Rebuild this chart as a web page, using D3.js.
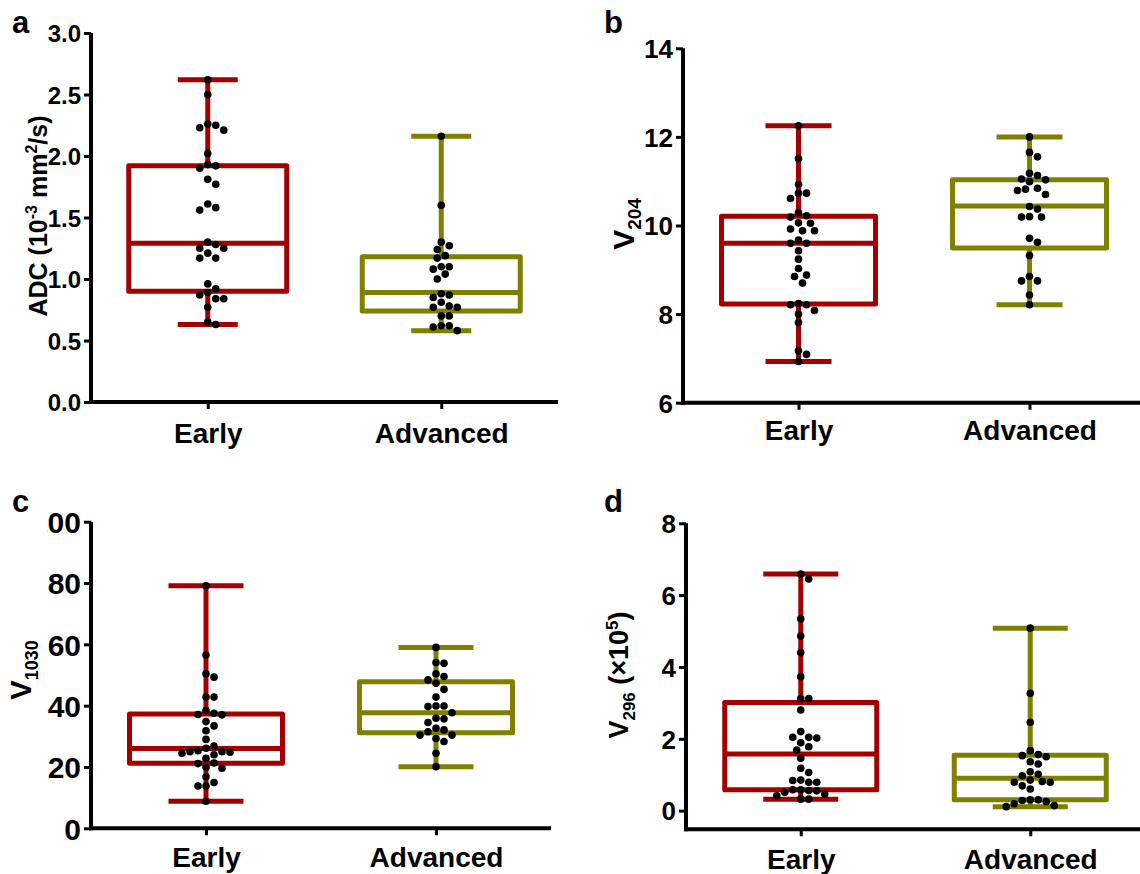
<!DOCTYPE html>
<html>
<head>
<meta charset="utf-8">
<script src="https://cdn.jsdelivr.net/npm/d3@7"></script>
<style>
  html, body { margin: 0; padding: 0; background: #fff; }
  svg { display: block; }
  text { font-family: "Liberation Sans", Arial, Helvetica, sans-serif; font-weight: bold; fill: #000; }
</style>
</head>
<body>
<svg id="chart" width="1140" height="874"></svg>
<script>
// ---------------- DATA ----------------
const categories = ["Early", "Advanced"];

// Panel a: ADC (10^-3 mm^2/s)
const adcTicks = [0, 0.5, 1.0, 1.5, 2.0, 2.5, 3.0];
const adcEarly = [2.62, 2.50, 2.25, 2.21, 2.23, 2.26, 2.02, 1.93, 1.90, 1.92, 1.81, 1.77, 1.61, 1.58, 1.56,
  1.30, 1.28, 1.25, 1.25, 1.21, 1.17, 1.17, 0.96, 0.92, 0.89, 0.87, 0.84, 0.84, 0.77, 0.63, 0.65];
const adcAdvanced = [2.16, 1.60, 1.30, 1.27, 1.24, 1.19, 1.17, 1.10, 1.10, 1.08, 1.04, 1.00, 0.87, 0.88, 0.85,
  0.78, 0.77, 0.77, 0.81, 0.70, 0.70, 0.62, 0.61, 0.62, 0.58];
// box stats: [min, q1, median, q3, max]
const adcEarlyBox = [0.63, 0.90, 1.29, 1.92, 2.62];
const adcAdvancedBox = [0.58, 0.74, 0.89, 1.18, 2.16];

// Panel b: V204
const v204Ticks = [6, 8, 10, 12, 14];
const v204Early = [12.25, 11.51, 10.93, 10.73, 10.73, 10.61, 10.29, 10.19, 10.22, 10.06, 10.05, 9.92, 9.88, 9.88,
  9.67, 9.60, 9.60, 9.43, 9.24, 9.03, 8.88, 8.85, 8.70, 8.24, 8.21, 8.21, 8.08, 8.00, 7.81, 7.17, 7.09, 6.93];
const v204Advanced = [12.0, 11.55, 11.65, 11.18, 11.13, 11.05, 10.99, 11.03, 10.84, 10.79, 10.70, 10.82, 10.43,
  10.37, 10.19, 10.19, 10.20, 9.71, 9.62, 9.32, 8.85, 8.75, 8.75, 8.43, 8.21];
const v204EarlyBox = [6.93, 8.23, 9.60, 10.21, 12.25];
const v204AdvancedBox = [8.21, 9.49, 10.44, 11.03, 12.0];

// Panel c: V1030
const v1030Ticks = [0, 20, 40, 60, 80, 100];
const v1030Early = [79.1, 56.5, 50.4, 49.3, 42.8, 42.8, 38.4, 37.1, 37.0, 37.5, 34.8, 33.4, 31.8, 29.0, 26.1, 26.8,
  25.0, 24.8, 25.3, 25.0, 24.5, 24.0, 22.8, 21.3, 21.1, 19.9, 19.6, 16.8, 14.9, 13.8, 13.8, 8.8];
const v1030Advanced = [59.0, 54.1, 53.8, 50.4, 49.5, 48.4, 47.3, 45.3, 42.8, 39.9, 39.7, 39.9, 37.7, 35.9, 35.7,
  34.5, 32.6, 32.1, 31.5, 30.4, 30.4, 29.3, 28.3, 24.5, 20.1];
const v1030EarlyBox = [8.8, 21.2, 26.0, 37.3, 79.1];
const v1030AdvancedBox = [20.1, 31.2, 37.7, 47.8, 59.0];

// Panel d: V296 (x10^5)
const v296Ticks = [0, 2, 4, 6, 8];
const v296Early = [6.59, 6.45, 5.34, 4.86, 4.40, 3.73, 3.12, 3.12, 2.80, 2.20, 2.04, 2.04, 2.02, 1.89, 1.78, 1.69,
  1.46, 1.18, 1.06, 0.85, 0.79, 0.84, 0.79, 0.58, 0.56, 0.51, 0.58, 0.55, 0.46, 0.41, 0.32, 0.32];
const v296Advanced = [5.08, 3.27, 2.46, 1.67, 1.53, 1.50, 1.56, 1.36, 1.30, 1.08, 1.01, 0.97, 0.85, 0.79, 0.79,
  0.81, 0.69, 0.60, 0.30, 0.28, 0.25, 0.30, 0.19, 0.14, 0.11];
const v296EarlyBox = [0.32, 0.58, 1.58, 3.01, 6.59];
const v296AdvancedBox = [0.11, 0.30, 0.90, 1.54, 5.08];

// ---------------- STYLE / LAYOUT ----------------
const colors = ["#a30000", "#808000"];
const svg = d3.select("#chart");
const defs = svg.append("defs");

const panels = [
  { letter: "a", lx: 12, ly: 33, x0: 91, x1: 558, domain: [0, 3], range: [402, 33], ticks: adcTicks,
    fmt: d3.format(".1f"), tickFont: 24, capW: 60, boxW: 158, catDy: 41,
    series: [adcEarly, adcAdvanced], boxes: [adcEarlyBox, adcAdvancedBox],
    ylab: { x: 47, y: 216, font: 25, kind: "adc" } },
  { letter: "b", lx: 604, ly: 33, x0: 683, x1: 1145, domain: [6, 14], range: [402.7, 48.3], ticks: v204Ticks,
    fmt: d3.format("d"), tickFont: 26, capW: 66, boxW: 154, catDy: 37,
    series: [v204Early, v204Advanced], boxes: [v204EarlyBox, v204AdvancedBox],
    ylab: { x: 634, y: 224, font: 30, kind: "v", sub: "204" } },
  { letter: "c", lx: 12, ly: 512, x0: 91, x1: 551, domain: [0, 100], range: [828.3, 521.7], ticks: v1030Ticks,
    fmt: d3.format("d"), tickFont: 30, capW: 75, boxW: 153, catDy: 39, clipLeft: 47,
    series: [v1030Early, v1030Advanced], boxes: [v1030EarlyBox, v1030AdvancedBox],
    ylab: { x: 31, y: 670, font: 29, kind: "v", sub: "1030" } },
  { letter: "d", lx: 604, ly: 512, x0: 686, x1: 1145, domain: [-0.52, 8], range: [829.3, 523.3], ticks: v296Ticks,
    fmt: d3.format("d"), tickFont: 26, capW: 75, boxW: 152, catDy: 40,
    series: [v296Early, v296Advanced], boxes: [v296EarlyBox, v296AdvancedBox],
    ylab: { x: 628, y: 675, font: 27, kind: "v296", sub: "296" } }
];

const R = 3.8;

// simple beeswarm: returns x offsets (pixel), centred rows
function swarm(values, y, r, step) {
  const D = 2 * r + 0.4;
  const pts = values.map((v, i) => ({ i, py: y(v), dx: 0 })).sort((a, b) => a.py - b.py);
  const placed = [];
  pts.forEach(p => {
    for (let k = 0; k < 60; k++) {
      const cands = k === 0 ? [0] : [k * step, -k * step];
      let ok = null;
      for (const c of cands) {
        if (placed.every(q => Math.hypot(q.dx - c, q.py - p.py) >= D)) { ok = c; break; }
      }
      if (ok !== null) { p.dx = ok; break; }
    }
    placed.push(p);
  });
  const out = new Array(values.length);
  pts.forEach(p => out[p.i] = p.dx);
  return out;
}

panels.forEach((P, pi) => {
  const g = svg.append("g");
  const y = d3.scaleLinear().domain(P.domain).range(P.range);
  const x = d3.scalePoint().domain(categories).range([P.x0, P.x1]).padding(0.5);
  const axisY = P.range[0];

  categories.forEach((cat, ci) => {
    const b = P.boxes[ci];
    const cx = x(cat);
    const col = colors[ci];
    const bg = g.append("g").attr("stroke", col).attr("stroke-width", 5).attr("fill", "none");
    bg.append("line").attr("x1", cx).attr("x2", cx).attr("y1", y(b[4])).attr("y2", y(b[3]));
    bg.append("line").attr("x1", cx).attr("x2", cx).attr("y1", y(b[1])).attr("y2", y(b[0]));
    bg.append("line").attr("x1", cx - P.capW / 2).attr("x2", cx + P.capW / 2).attr("y1", y(b[4])).attr("y2", y(b[4]));
    bg.append("line").attr("x1", cx - P.capW / 2).attr("x2", cx + P.capW / 2).attr("y1", y(b[0])).attr("y2", y(b[0]));
    bg.append("rect").attr("x", cx - P.boxW / 2).attr("width", P.boxW)
      .attr("y", y(b[3])).attr("height", y(b[1]) - y(b[3]))
      .attr("fill", "#fff").attr("stroke-linejoin", "round");
    bg.append("line").attr("x1", cx - P.boxW / 2).attr("x2", cx + P.boxW / 2).attr("y1", y(b[2])).attr("y2", y(b[2]));

    const vals = P.series[ci];
    const offs = swarm(vals, y, R, 4);
    g.append("g").selectAll("circle").data(vals).join("circle")
      .attr("cx", (d, i) => cx + offs[i]).attr("cy", d => y(d)).attr("r", R).attr("fill", "#000");
  });

  // y axis
  const ya = g.append("g").attr("transform", `translate(${P.x0},0)`)
    .call(d3.axisLeft(y).tickValues(P.ticks).tickFormat(P.fmt).tickSize(7).tickPadding(3).tickSizeOuter(0));
  ya.select(".domain").attr("stroke", "#000").attr("stroke-width", 4).attr("d", `M0,${axisY + 2}V${P.range[1]}`);
  ya.selectAll(".tick line").attr("stroke", "#000").attr("stroke-width", 3);
  ya.selectAll(".tick text").attr("font-size", P.tickFont).attr("font-family", null).attr("dy", "0.36em");
  if (P.clipLeft) {
    const cid = "clip" + pi;
    defs.append("clipPath").attr("id", cid)
      .append("rect").attr("x", P.clipLeft - P.x0).attr("y", -1000).attr("width", 2000).attr("height", 3000);
    ya.attr("clip-path", `url(#${cid})`);
  }

  // x axis
  const xa = g.append("g").attr("transform", `translate(0,${axisY})`)
    .call(d3.axisBottom(x).tickSize(7).tickPadding(4).tickSizeOuter(0));
  xa.select(".domain").attr("stroke", "#000").attr("stroke-width", 4).attr("d", `M${P.x0 - 2},0H${P.x1}`);
  xa.selectAll(".tick line").attr("stroke", "#000").attr("stroke-width", 3);
  xa.selectAll(".tick text").attr("font-size", 28).attr("font-family", null).attr("y", P.catDy).attr("dy", 0);

  // panel letter
  svg.append("text").attr("x", P.lx).attr("y", P.ly).attr("font-size", 31).text(P.letter);

  // y label
  const L = P.ylab;
  const t = svg.append("text").attr("transform", `translate(${L.x},${L.y}) rotate(-90)`)
    .attr("text-anchor", "middle").attr("font-size", L.font);
  if (L.kind === "adc") {
    t.append("tspan").text("ADC (10");
    t.append("tspan").attr("font-size", 16).attr("dy", -10).text("-3");
    t.append("tspan").attr("dy", 10).text(" mm");
    t.append("tspan").attr("font-size", 16).attr("dy", -10).text("2");
    t.append("tspan").attr("dy", 10).text("/s)");
  } else {
    t.append("tspan").text("V");
    t.append("tspan").attr("font-size", Math.round(L.font * 0.62)).attr("dy", 7).text(L.sub);
    if (L.kind === "v296") {
      t.append("tspan").attr("dy", -7).text(" (×10");
      t.append("tspan").attr("font-size", 17).attr("dy", -10).text("5");
      t.append("tspan").attr("dy", 10).text(")");
    }
  }
});
</script>
</body>
</html>
